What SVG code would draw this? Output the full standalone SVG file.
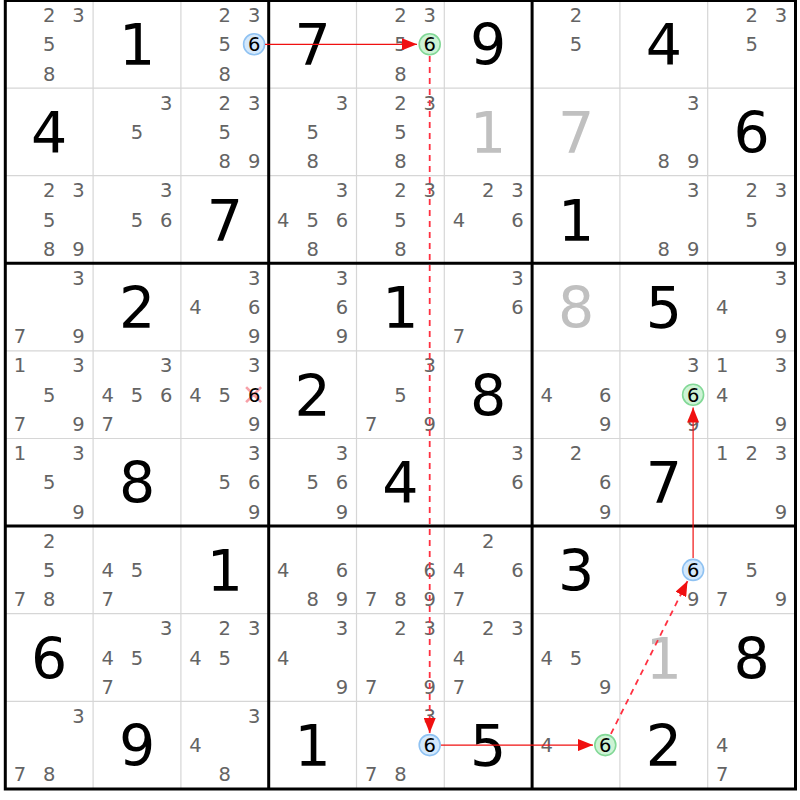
<svg xmlns="http://www.w3.org/2000/svg" width="800" height="800" viewBox="0 0 800 800">
<style>
text{font-family:"DejaVu Sans","Liberation Sans",sans-serif;text-anchor:middle}
.c{font-size:19.5px;fill:#646464}
.h{font-size:19.5px;fill:#000}
.g{font-size:57px;fill:#000}
.s{font-size:57px;fill:#c0c0c0}
.thin{stroke:#d6d6d6;stroke-width:1.2}
.thick{stroke:#000;stroke-width:3}
.blue{fill:#d3e8fc;stroke:#8fc2f2;stroke-width:1.6}
.green{fill:#cdf3d5;stroke:#82d896;stroke-width:1.6}
.link{stroke:#f01010;stroke-width:1.2;fill:none;marker-end:url(#ah)}
.dash{stroke:#ff3040;stroke-width:1.8;stroke-dasharray:6,5}
</style>
<defs>
<marker id="ah" markerUnits="userSpaceOnUse" markerWidth="16" markerHeight="12" refX="15" refY="6" orient="auto">
<path d="M0,0 L15,6 L0,12 z" fill="#f01010"/>
</marker>
</defs>
<rect width="800" height="800" fill="#fff"/>
<g id="grid">
<path class="thin" d="M93.1,0.5V789 M180.9,0.5V789 M356.5,0.5V789 M444.3,0.5V789 M619.9,0.5V789 M707.7,0.5V789 M5.3,88.1H795.5 M5.3,175.7H795.5 M5.3,350.9H795.5 M5.3,438.5H795.5 M5.3,613.7H795.5 M5.3,701.3H795.5"/>
<path class="thick" d="M268.7,0.5V789 M532.1,0.5V789 M5.3,263.3H795.5 M5.3,526.1H795.5"/>
<rect class="thick" x="5.3" y="0.5" width="790.2" height="788.5" fill="none"/>
</g>
<g id="highlights">
<circle class="blue" cx="254.1" cy="44.3" r="10.5"/>
<circle class="green" cx="429.7" cy="44.3" r="10.5"/>
<circle class="green" cx="693.1" cy="394.7" r="10.5"/>
<circle class="blue" cx="693.1" cy="569.9" r="10.5"/>
<circle class="blue" cx="429.7" cy="745.1" r="10.5"/>
<circle class="green" cx="605.3" cy="745.1" r="10.5"/>
<path d="M246.1,387.2L261.1,402.2M261.1,387.2L246.1,402.2" stroke="#f7a0a8" stroke-width="2.6"/>
</g>
<g id="r1c1" transform="translate(49.2,44.3)"><text class="c" x="0" y="-22.3">2</text><text class="c" x="29.3" y="-22.3">3</text><text class="c" x="0" y="7">5</text><text class="c" x="0" y="36.3">8</text></g>
<g id="r1c2" transform="translate(137,44.3)"><text class="g" y="21">1</text></g>
<g id="r1c3" transform="translate(224.8,44.3)"><text class="c" x="0" y="-22.3">2</text><text class="c" x="29.3" y="-22.3">3</text><text class="c" x="0" y="7">5</text><text class="h" x="29.3" y="7">6</text><text class="c" x="0" y="36.3">8</text></g>
<g id="r1c4" transform="translate(312.6,44.3)"><text class="g" y="21">7</text></g>
<g id="r1c5" transform="translate(400.4,44.3)"><text class="c" x="0" y="-22.3">2</text><text class="c" x="29.3" y="-22.3">3</text><text class="c" x="0" y="7">5</text><text class="h" x="29.3" y="7">6</text><text class="c" x="0" y="36.3">8</text></g>
<g id="r1c6" transform="translate(488.2,44.3)"><text class="g" y="21">9</text></g>
<g id="r1c7" transform="translate(576,44.3)"><text class="c" x="0" y="-22.3">2</text><text class="c" x="0" y="7">5</text></g>
<g id="r1c8" transform="translate(663.8,44.3)"><text class="g" y="21">4</text></g>
<g id="r1c9" transform="translate(751.6,44.3)"><text class="c" x="0" y="-22.3">2</text><text class="c" x="29.3" y="-22.3">3</text><text class="c" x="0" y="7">5</text></g>

<g id="r2c1" transform="translate(49.2,131.9)"><text class="g" y="21">4</text></g>
<g id="r2c2" transform="translate(137,131.9)"><text class="c" x="29.3" y="-22.3">3</text><text class="c" x="0" y="7">5</text></g>
<g id="r2c3" transform="translate(224.8,131.9)"><text class="c" x="0" y="-22.3">2</text><text class="c" x="29.3" y="-22.3">3</text><text class="c" x="0" y="7">5</text><text class="c" x="0" y="36.3">8</text><text class="c" x="29.3" y="36.3">9</text></g>
<g id="r2c4" transform="translate(312.6,131.9)"><text class="c" x="29.3" y="-22.3">3</text><text class="c" x="0" y="7">5</text><text class="c" x="0" y="36.3">8</text></g>
<g id="r2c5" transform="translate(400.4,131.9)"><text class="c" x="0" y="-22.3">2</text><text class="c" x="29.3" y="-22.3">3</text><text class="c" x="0" y="7">5</text><text class="c" x="0" y="36.3">8</text></g>
<g id="r2c6" transform="translate(488.2,131.9)"><text class="s" y="21">1</text></g>
<g id="r2c7" transform="translate(576,131.9)"><text class="s" y="21">7</text></g>
<g id="r2c8" transform="translate(663.8,131.9)"><text class="c" x="29.3" y="-22.3">3</text><text class="c" x="0" y="36.3">8</text><text class="c" x="29.3" y="36.3">9</text></g>
<g id="r2c9" transform="translate(751.6,131.9)"><text class="g" y="21">6</text></g>

<g id="r3c1" transform="translate(49.2,219.5)"><text class="c" x="0" y="-22.3">2</text><text class="c" x="29.3" y="-22.3">3</text><text class="c" x="0" y="7">5</text><text class="c" x="0" y="36.3">8</text><text class="c" x="29.3" y="36.3">9</text></g>
<g id="r3c2" transform="translate(137,219.5)"><text class="c" x="29.3" y="-22.3">3</text><text class="c" x="0" y="7">5</text><text class="c" x="29.3" y="7">6</text></g>
<g id="r3c3" transform="translate(224.8,219.5)"><text class="g" y="21">7</text></g>
<g id="r3c4" transform="translate(312.6,219.5)"><text class="c" x="29.3" y="-22.3">3</text><text class="c" x="-29.3" y="7">4</text><text class="c" x="0" y="7">5</text><text class="c" x="29.3" y="7">6</text><text class="c" x="0" y="36.3">8</text></g>
<g id="r3c5" transform="translate(400.4,219.5)"><text class="c" x="0" y="-22.3">2</text><text class="c" x="29.3" y="-22.3">3</text><text class="c" x="0" y="7">5</text><text class="c" x="0" y="36.3">8</text></g>
<g id="r3c6" transform="translate(488.2,219.5)"><text class="c" x="0" y="-22.3">2</text><text class="c" x="29.3" y="-22.3">3</text><text class="c" x="-29.3" y="7">4</text><text class="c" x="29.3" y="7">6</text></g>
<g id="r3c7" transform="translate(576,219.5)"><text class="g" y="21">1</text></g>
<g id="r3c8" transform="translate(663.8,219.5)"><text class="c" x="29.3" y="-22.3">3</text><text class="c" x="0" y="36.3">8</text><text class="c" x="29.3" y="36.3">9</text></g>
<g id="r3c9" transform="translate(751.6,219.5)"><text class="c" x="0" y="-22.3">2</text><text class="c" x="29.3" y="-22.3">3</text><text class="c" x="0" y="7">5</text><text class="c" x="29.3" y="36.3">9</text></g>

<g id="r4c1" transform="translate(49.2,307.1)"><text class="c" x="29.3" y="-22.3">3</text><text class="c" x="-29.3" y="36.3">7</text><text class="c" x="29.3" y="36.3">9</text></g>
<g id="r4c2" transform="translate(137,307.1)"><text class="g" y="21">2</text></g>
<g id="r4c3" transform="translate(224.8,307.1)"><text class="c" x="29.3" y="-22.3">3</text><text class="c" x="-29.3" y="7">4</text><text class="c" x="29.3" y="7">6</text><text class="c" x="29.3" y="36.3">9</text></g>
<g id="r4c4" transform="translate(312.6,307.1)"><text class="c" x="29.3" y="-22.3">3</text><text class="c" x="29.3" y="7">6</text><text class="c" x="29.3" y="36.3">9</text></g>
<g id="r4c5" transform="translate(400.4,307.1)"><text class="g" y="21">1</text></g>
<g id="r4c6" transform="translate(488.2,307.1)"><text class="c" x="29.3" y="-22.3">3</text><text class="c" x="29.3" y="7">6</text><text class="c" x="-29.3" y="36.3">7</text></g>
<g id="r4c7" transform="translate(576,307.1)"><text class="s" y="21">8</text></g>
<g id="r4c8" transform="translate(663.8,307.1)"><text class="g" y="21">5</text></g>
<g id="r4c9" transform="translate(751.6,307.1)"><text class="c" x="29.3" y="-22.3">3</text><text class="c" x="-29.3" y="7">4</text><text class="c" x="29.3" y="36.3">9</text></g>

<g id="r5c1" transform="translate(49.2,394.7)"><text class="c" x="-29.3" y="-22.3">1</text><text class="c" x="29.3" y="-22.3">3</text><text class="c" x="0" y="7">5</text><text class="c" x="-29.3" y="36.3">7</text><text class="c" x="29.3" y="36.3">9</text></g>
<g id="r5c2" transform="translate(137,394.7)"><text class="c" x="29.3" y="-22.3">3</text><text class="c" x="-29.3" y="7">4</text><text class="c" x="0" y="7">5</text><text class="c" x="29.3" y="7">6</text><text class="c" x="-29.3" y="36.3">7</text></g>
<g id="r5c3" transform="translate(224.8,394.7)"><text class="c" x="29.3" y="-22.3">3</text><text class="c" x="-29.3" y="7">4</text><text class="c" x="0" y="7">5</text><text class="h" x="29.3" y="7">6</text><text class="c" x="29.3" y="36.3">9</text></g>
<g id="r5c4" transform="translate(312.6,394.7)"><text class="g" y="21">2</text></g>
<g id="r5c5" transform="translate(400.4,394.7)"><text class="c" x="29.3" y="-22.3">3</text><text class="c" x="0" y="7">5</text><text class="c" x="-29.3" y="36.3">7</text><text class="c" x="29.3" y="36.3">9</text></g>
<g id="r5c6" transform="translate(488.2,394.7)"><text class="g" y="21">8</text></g>
<g id="r5c7" transform="translate(576,394.7)"><text class="c" x="-29.3" y="7">4</text><text class="c" x="29.3" y="7">6</text><text class="c" x="29.3" y="36.3">9</text></g>
<g id="r5c8" transform="translate(663.8,394.7)"><text class="c" x="29.3" y="-22.3">3</text><text class="h" x="29.3" y="7">6</text><text class="c" x="29.3" y="36.3">9</text></g>
<g id="r5c9" transform="translate(751.6,394.7)"><text class="c" x="-29.3" y="-22.3">1</text><text class="c" x="29.3" y="-22.3">3</text><text class="c" x="-29.3" y="7">4</text><text class="c" x="29.3" y="36.3">9</text></g>

<g id="r6c1" transform="translate(49.2,482.3)"><text class="c" x="-29.3" y="-22.3">1</text><text class="c" x="29.3" y="-22.3">3</text><text class="c" x="0" y="7">5</text><text class="c" x="29.3" y="36.3">9</text></g>
<g id="r6c2" transform="translate(137,482.3)"><text class="g" y="21">8</text></g>
<g id="r6c3" transform="translate(224.8,482.3)"><text class="c" x="29.3" y="-22.3">3</text><text class="c" x="0" y="7">5</text><text class="c" x="29.3" y="7">6</text><text class="c" x="29.3" y="36.3">9</text></g>
<g id="r6c4" transform="translate(312.6,482.3)"><text class="c" x="29.3" y="-22.3">3</text><text class="c" x="0" y="7">5</text><text class="c" x="29.3" y="7">6</text><text class="c" x="29.3" y="36.3">9</text></g>
<g id="r6c5" transform="translate(400.4,482.3)"><text class="g" y="21">4</text></g>
<g id="r6c6" transform="translate(488.2,482.3)"><text class="c" x="29.3" y="-22.3">3</text><text class="c" x="29.3" y="7">6</text></g>
<g id="r6c7" transform="translate(576,482.3)"><text class="c" x="0" y="-22.3">2</text><text class="c" x="29.3" y="7">6</text><text class="c" x="29.3" y="36.3">9</text></g>
<g id="r6c8" transform="translate(663.8,482.3)"><text class="g" y="21">7</text></g>
<g id="r6c9" transform="translate(751.6,482.3)"><text class="c" x="-29.3" y="-22.3">1</text><text class="c" x="0" y="-22.3">2</text><text class="c" x="29.3" y="-22.3">3</text><text class="c" x="29.3" y="36.3">9</text></g>

<g id="r7c1" transform="translate(49.2,569.9)"><text class="c" x="0" y="-22.3">2</text><text class="c" x="0" y="7">5</text><text class="c" x="-29.3" y="36.3">7</text><text class="c" x="0" y="36.3">8</text></g>
<g id="r7c2" transform="translate(137,569.9)"><text class="c" x="-29.3" y="7">4</text><text class="c" x="0" y="7">5</text><text class="c" x="-29.3" y="36.3">7</text></g>
<g id="r7c3" transform="translate(224.8,569.9)"><text class="g" y="21">1</text></g>
<g id="r7c4" transform="translate(312.6,569.9)"><text class="c" x="-29.3" y="7">4</text><text class="c" x="29.3" y="7">6</text><text class="c" x="0" y="36.3">8</text><text class="c" x="29.3" y="36.3">9</text></g>
<g id="r7c5" transform="translate(400.4,569.9)"><text class="c" x="29.3" y="7">6</text><text class="c" x="-29.3" y="36.3">7</text><text class="c" x="0" y="36.3">8</text><text class="c" x="29.3" y="36.3">9</text></g>
<g id="r7c6" transform="translate(488.2,569.9)"><text class="c" x="0" y="-22.3">2</text><text class="c" x="-29.3" y="7">4</text><text class="c" x="29.3" y="7">6</text><text class="c" x="-29.3" y="36.3">7</text></g>
<g id="r7c7" transform="translate(576,569.9)"><text class="g" y="21">3</text></g>
<g id="r7c8" transform="translate(663.8,569.9)"><text class="h" x="29.3" y="7">6</text><text class="c" x="29.3" y="36.3">9</text></g>
<g id="r7c9" transform="translate(751.6,569.9)"><text class="c" x="0" y="7">5</text><text class="c" x="-29.3" y="36.3">7</text><text class="c" x="29.3" y="36.3">9</text></g>

<g id="r8c1" transform="translate(49.2,657.5)"><text class="g" y="21">6</text></g>
<g id="r8c2" transform="translate(137,657.5)"><text class="c" x="29.3" y="-22.3">3</text><text class="c" x="-29.3" y="7">4</text><text class="c" x="0" y="7">5</text><text class="c" x="-29.3" y="36.3">7</text></g>
<g id="r8c3" transform="translate(224.8,657.5)"><text class="c" x="0" y="-22.3">2</text><text class="c" x="29.3" y="-22.3">3</text><text class="c" x="-29.3" y="7">4</text><text class="c" x="0" y="7">5</text></g>
<g id="r8c4" transform="translate(312.6,657.5)"><text class="c" x="29.3" y="-22.3">3</text><text class="c" x="-29.3" y="7">4</text><text class="c" x="29.3" y="36.3">9</text></g>
<g id="r8c5" transform="translate(400.4,657.5)"><text class="c" x="0" y="-22.3">2</text><text class="c" x="29.3" y="-22.3">3</text><text class="c" x="-29.3" y="36.3">7</text><text class="c" x="29.3" y="36.3">9</text></g>
<g id="r8c6" transform="translate(488.2,657.5)"><text class="c" x="0" y="-22.3">2</text><text class="c" x="29.3" y="-22.3">3</text><text class="c" x="-29.3" y="7">4</text><text class="c" x="-29.3" y="36.3">7</text></g>
<g id="r8c7" transform="translate(576,657.5)"><text class="c" x="-29.3" y="7">4</text><text class="c" x="0" y="7">5</text><text class="c" x="29.3" y="36.3">9</text></g>
<g id="r8c8" transform="translate(663.8,657.5)"><text class="s" y="21">1</text></g>
<g id="r8c9" transform="translate(751.6,657.5)"><text class="g" y="21">8</text></g>

<g id="r9c1" transform="translate(49.2,745.1)"><text class="c" x="29.3" y="-22.3">3</text><text class="c" x="-29.3" y="36.3">7</text><text class="c" x="0" y="36.3">8</text></g>
<g id="r9c2" transform="translate(137,745.1)"><text class="g" y="21">9</text></g>
<g id="r9c3" transform="translate(224.8,745.1)"><text class="c" x="29.3" y="-22.3">3</text><text class="c" x="-29.3" y="7">4</text><text class="c" x="0" y="36.3">8</text></g>
<g id="r9c4" transform="translate(312.6,745.1)"><text class="g" y="21">1</text></g>
<g id="r9c5" transform="translate(400.4,745.1)"><text class="c" x="29.3" y="-22.3">3</text><text class="h" x="29.3" y="7">6</text><text class="c" x="-29.3" y="36.3">7</text><text class="c" x="0" y="36.3">8</text></g>
<g id="r9c6" transform="translate(488.2,745.1)"><text class="g" y="21">5</text></g>
<g id="r9c7" transform="translate(576,745.1)"><text class="c" x="-29.3" y="7">4</text><text class="h" x="29.3" y="7">6</text></g>
<g id="r9c8" transform="translate(663.8,745.1)"><text class="g" y="21">2</text></g>
<g id="r9c9" transform="translate(751.6,745.1)"><text class="c" x="-29.3" y="7">4</text><text class="c" x="-29.3" y="36.3">7</text></g>

<g id="connectors">
<line class="link" x1="265" y1="44.3" x2="417" y2="44.3"/>
<line class="link dash" x1="429.7" y1="56" x2="429.7" y2="733"/>
<line class="link" x1="441" y1="745.1" x2="593" y2="745.1"/>
<line class="link dash" x1="610.9" y1="733.9" x2="687.5" y2="581.1"/>
<line class="link" x1="693.1" y1="558" x2="693.1" y2="407.5"/>
</g>
</svg>
